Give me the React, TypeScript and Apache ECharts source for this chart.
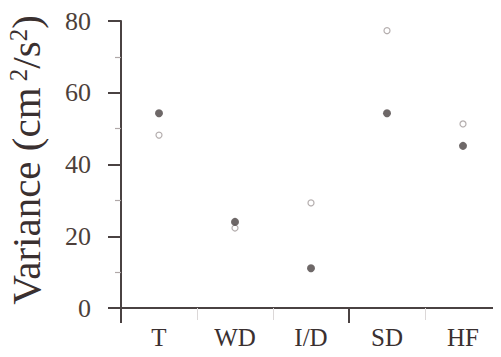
import React, { useEffect, useRef } from "react";
import * as echarts from "echarts";

const categories = ["T", "WD", "I/D", "SD", "HF"];
const filledValues = [54.3, 24.0, 11.1, 54.3, 45.2];
const openValues = [48.2, 22.3, 29.3, 77.3, 51.3];
const yTicks = [0, 20, 40, 60, 80];

const INK = "#4a4242";
const LABEL = "#4d3f3a";
const SERIF = "'Liberation Serif', 'DejaVu Serif', serif";

export default function App() {
  const ref = useRef<HTMLDivElement>(null);

  useEffect(() => {
    if (!ref.current) return;
    const chart = echarts.init(ref.current, undefined, { renderer: "svg" });
    chart.setOption({
      animation: false,
      backgroundColor: "#ffffff",
      grid: { left: 121, top: 21, bottom: 49, width: 382 },
      xAxis: [
        {
          type: "category",
          data: categories,
          boundaryGap: true,
          axisLine: { show: true, lineStyle: { color: INK, width: 2 } },
          axisTick: {
            show: true,
            alignWithLabel: false,
            length: 12,
            lineStyle: { color: "#dcd8d8", width: 1 },
          },
          axisLabel: {
            color: "#3a3030",
            fontFamily: SERIF,
            fontSize: 25,
            margin: 17,
          },
        },
        {
          type: "value",
          min: 0,
          max: 5,
          position: "bottom",
          axisLine: { show: false },
          splitLine: { show: false },
          axisLabel: { show: false },
          axisTick: {
            show: true,
            customValues: [0, 3],
            length: 15,
            lineStyle: { color: INK, width: 2 },
          },
        },
      ],
      yAxis: {
        type: "value",
        min: yTicks[0],
        max: yTicks[yTicks.length - 1],
        interval: 20,
        axisLine: { show: true, lineStyle: { color: INK, width: 2 } },
        axisTick: { show: true, length: 13, lineStyle: { color: INK, width: 2 } },
        minorTick: {
          show: true,
          splitNumber: 2,
          length: 6,
          lineStyle: { color: "#b0a8a8", width: 1.2 },
        },
        splitLine: { show: false },
        axisLabel: {
          color: LABEL,
          fontFamily: SERIF,
          fontSize: 26,
          margin: 30,
        },
      },
      graphic: [
        {
          type: "text",
          x: 26,
          y: 160,
          rotation: Math.PI / 2,
          style: {
            text: "{m|Variance (cm}{s| 2}{m|/s}{s|2}{m|)}",
            fontFamily: SERIF,
            fill: "#3a3030",
            align: "center",
            verticalAlign: "middle",
            rich: {
              m: { fontFamily: SERIF, fontSize: 41, fill: "#3a3030", lineHeight: 41 },
              s: {
                fontFamily: SERIF,
                fontSize: 25,
                fill: "#3a3030",
                verticalAlign: "top",
                lineHeight: 41,
              },
            },
          },
        },
      ],
      series: [
        {
          type: "scatter",
          name: "open",
          data: openValues,
          symbol: "circle",
          symbolSize: 6,
          itemStyle: { color: "#ffffff", borderColor: "#a09898", borderWidth: 1.2 },
          z: 2,
        },
        {
          type: "scatter",
          name: "filled",
          data: filledValues,
          symbol: "circle",
          symbolSize: 8,
          itemStyle: { color: INK },
          z: 3,
        },
      ],
    });
    return () => chart.dispose();
  }, []);

  return <div ref={ref} style={{ width: 501, height: 357, margin: -8 }} />;
}
